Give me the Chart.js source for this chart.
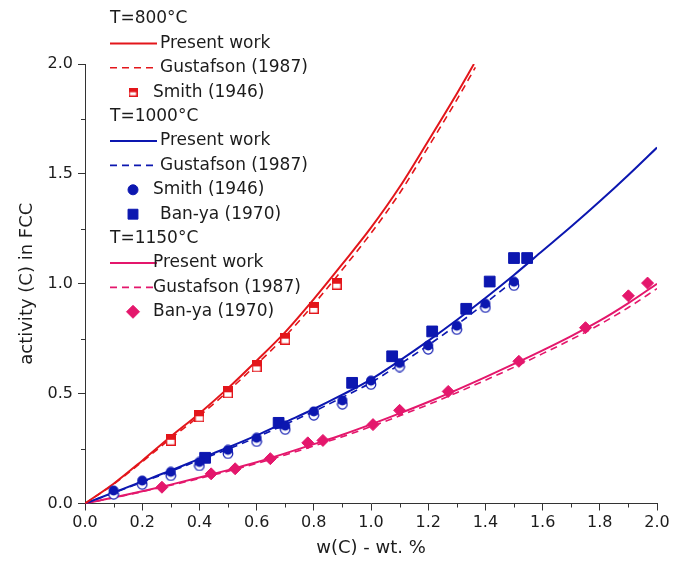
<!DOCTYPE html>
<html>
<head>
<meta charset="utf-8">
<script src="https://cdn.jsdelivr.net/npm/chart.js@4.4.1/dist/chart.umd.min.js"></script>
<style>
  html, body { margin: 0; padding: 0; background: #fff; }
</style>
</head>
<body>
<canvas id="chart" width="685" height="573"></canvas>
<script>
// Carbon activity in FCC iron vs. carbon content at three temperatures

const RED = '#e3161b';
const BLUE = '#0c17b0';
const PINK = '#e4176c';
const INK = '#1c1c1c';

// T = 800 °C
const present800X = [0, 0.1, 0.2, 0.3, 0.4, 0.5, 0.6, 0.7, 0.8, 0.9, 1.0, 1.1, 1.2, 1.3, 1.36];
const present800 = [0, 0.09, 0.195, 0.305, 0.41, 0.525, 0.65, 0.78, 0.93, 1.09, 1.255, 1.44, 1.65, 1.865, 2.0];
const gustafson800X = [0, 0.1, 0.2, 0.3, 0.4, 0.5, 0.6, 0.7, 0.8, 0.9, 1.0, 1.1, 1.2, 1.3, 1.365];
const gustafson800 = [0, 0.088, 0.19, 0.296, 0.399, 0.511, 0.633, 0.761, 0.907, 1.065, 1.23, 1.412, 1.622, 1.837, 1.985];
const smith800X = [0.3, 0.4, 0.5, 0.6, 0.7, 0.8, 0.88];
const smith800 = [0.29, 0.397, 0.506, 0.624, 0.75, 0.89, 1.0];

// T = 1000 °C
const present1000X = [0, 0.1, 0.2, 0.3, 0.4, 0.5, 0.6, 0.7, 0.8, 0.9, 1.0, 1.1, 1.2, 1.3, 1.4, 1.5, 1.6, 1.7, 1.8, 1.9, 2.0];
const present1000 = [0, 0.05, 0.1, 0.15, 0.203, 0.255, 0.31, 0.37, 0.43, 0.495, 0.565, 0.65, 0.74, 0.835, 0.935, 1.04, 1.15, 1.26, 1.375, 1.495, 1.62];
const gustafson1000X = [0, 0.1, 0.2, 0.3, 0.4, 0.5, 0.6, 0.7, 0.8, 0.9, 1.0, 1.1, 1.2, 1.3, 1.4, 1.5];
const gustafson1000 = [0, 0.048, 0.097, 0.146, 0.197, 0.247, 0.301, 0.36, 0.419, 0.483, 0.55, 0.633, 0.72, 0.813, 0.912, 1.015];
const smith1000X = [0.1, 0.2, 0.3, 0.4, 0.5, 0.6, 0.7, 0.8, 0.9, 1.0, 1.1, 1.2, 1.3, 1.4, 1.5];
const smith1000 = [0.05, 0.095, 0.135, 0.18, 0.235, 0.29, 0.345, 0.41, 0.46, 0.55, 0.63, 0.71, 0.8, 0.9, 1.0];
const banya1000X = [0.42, 0.677, 0.934, 1.074, 1.214, 1.333, 1.415, 1.5, 1.546];
const banya1000 = [0.208, 0.367, 0.549, 0.67, 0.783, 0.886, 1.01, 1.117, 1.117];

// T = 1150 °C
const present1150X = [0, 0.1, 0.2, 0.3, 0.4, 0.5, 0.6, 0.7, 0.8, 0.9, 1.0, 1.1, 1.2, 1.3, 1.4, 1.5, 1.6, 1.7, 1.8, 1.9, 2.0];
const present1150 = [0, 0.027, 0.056, 0.086, 0.118, 0.152, 0.188, 0.228, 0.27, 0.313, 0.36, 0.41, 0.462, 0.517, 0.575, 0.635, 0.697, 0.762, 0.832, 0.912, 1.0];
const gustafson1150X = [0, 0.1, 0.2, 0.3, 0.4, 0.5, 0.6, 0.7, 0.8, 0.9, 1.0, 1.1, 1.2, 1.3, 1.4, 1.5, 1.6, 1.7, 1.8, 1.9, 2.0];
const gustafson1150 = [0, 0.026, 0.054, 0.083, 0.114, 0.147, 0.182, 0.221, 0.262, 0.304, 0.35, 0.399, 0.45, 0.504, 0.561, 0.62, 0.682, 0.746, 0.815, 0.892, 0.978];
const banya1150X = [0.269, 0.441, 0.525, 0.648, 0.779, 0.832, 1.007, 1.1, 1.27, 1.517, 1.75, 1.9, 1.967];
const banya1150 = [0.074, 0.135, 0.158, 0.204, 0.276, 0.287, 0.359, 0.424, 0.51, 0.647, 0.8, 0.945, 1.003];

const xTickStep = 0.2;
const yTickStep = 0.5;
const xMinorTicks = [0.1, 0.3, 0.5, 0.7, 0.9, 1.1, 1.3, 1.5, 1.7, 1.9];
const yMinorTicks = [0.25, 0.75, 1.25, 1.75];

const zip = (xs, ys) => xs.map((x, i) => ({ x, y: ys[i] }));

// half-filled markers (upper half solid)
function halfSquare(color, w, h) {
    const c = document.createElement('canvas');
    c.width = w; c.height = h;
    const g = c.getContext('2d');
    g.fillStyle = '#fff';
    g.fillRect(0, 0, w, h);
    g.fillStyle = color;
    g.fillRect(0, 0, w, h / 2);
    g.strokeStyle = color;
    g.lineWidth = 1.4;
    g.strokeRect(0.7, 0.7, w - 1.4, h - 1.4);
    return c;
}

function halfCircle(color) {
    const c = document.createElement('canvas');
    c.width = 12; c.height = 15;
    const g = c.getContext('2d');
    g.beginPath();
    g.arc(6, 9.3, 4.8, 0, Math.PI * 2);
    g.fillStyle = '#fff';
    g.fill();
    g.strokeStyle = color;
    g.lineWidth = 1.2;
    g.stroke();
    g.beginPath();
    g.arc(6, 5.5, 5, 0, Math.PI * 2);
    g.fillStyle = color;
    g.fill();
    return c;
}

function curve(points, color, dashed) {
    return {
        data: points,
        showLine: true,
        borderColor: color,
        borderWidth: dashed ? 1.6 : 2,
        borderDash: dashed ? [7, 5] : [],
        pointRadius: 0,
        cubicInterpolationMode: 'monotone',
        fill: false,
        order: 2,
    };
}

function markers(points, color, style, radius) {
    return {
        data: points,
        showLine: false,
        pointStyle: style,
        pointRadius: radius,
        pointBackgroundColor: color,
        pointBorderColor: color,
        pointBorderWidth: 1,
        order: 1,
    };
}

const sqMarker800 = halfSquare(RED, 10, 12);
const circMarker1000 = halfCircle(BLUE);

const ds = {
    p800: curve(zip(present800X, present800), RED, false),
    g800: curve(zip(gustafson800X, gustafson800), RED, true),
    s800: markers(zip(smith800X, smith800), RED, sqMarker800, 5),
    p1000: curve(zip(present1000X, present1000), BLUE, false),
    g1000: curve(zip(gustafson1000X, gustafson1000), BLUE, true),
    s1000: markers(zip(smith1000X, smith1000), BLUE, circMarker1000, 5),
    b1000: markers(zip(banya1000X, banya1000), BLUE, 'rect', 7.6),
    p1150: curve(zip(present1150X, present1150), PINK, false),
    g1150: curve(zip(gustafson1150X, gustafson1150), PINK, true),
    b1150: markers(zip(banya1150X, banya1150), PINK, 'rectRot', 6),
};

const legendRows = [
    { text: 'T=800°C' },
    { text: 'Present work', line: ds.p800 },
    { text: 'Gustafson (1987)', line: ds.g800 },
    { text: 'Smith (1946)', marker: ds.s800, style: halfSquare(RED, 9, 9), textX: 153 },
    { text: 'T=1000°C' },
    { text: 'Present work', line: ds.p1000 },
    { text: 'Gustafson (1987)', line: ds.g1000 },
    { text: 'Smith (1946)', marker: ds.s1000, style: 'circle', radius: 5, textX: 153 },
    { text: 'Ban-ya (1970)', marker: ds.b1000, radius: 7 },
    { text: 'T=1150°C' },
    { text: 'Present work', line: ds.p1150, textX: 153 },
    { text: 'Gustafson (1987)', line: ds.g1150, textX: 153 },
    { text: 'Ban-ya (1970)', marker: ds.b1150, radius: 6.5, textX: 153 },
];

// grouped legend in the upper-left corner
const groupLegend = {
    id: 'groupLegend',
    afterDraw(chart) {
        const ctx = chart.ctx;
        const left = 110, top = 19, rowH = 24.4, lineW = 47;
        ctx.save();
        ctx.font = '17px "DejaVu Sans"';
        ctx.fillStyle = INK;
        ctx.textBaseline = 'middle';
        legendRows.forEach((row, i) => {
            const y = top + i * rowH;
            let tx = left;
            if (row.line) {
                ctx.save();
                ctx.strokeStyle = row.line.borderColor;
                ctx.lineWidth = row.line.borderWidth;
                ctx.setLineDash(row.line.borderDash);
                ctx.beginPath();
                ctx.moveTo(left, y);
                ctx.lineTo(left + lineW, y);
                ctx.stroke();
                ctx.restore();
                tx = row.textX || left + 50;
            } else if (row.marker) {
                ctx.save();
                ctx.fillStyle = row.marker.pointBackgroundColor;
                ctx.strokeStyle = row.marker.pointBorderColor;
                ctx.lineWidth = 1;
                Chart.helpers.drawPoint(ctx, {
                    pointStyle: row.style || row.marker.pointStyle,
                    radius: row.radius || row.marker.pointRadius,
                    borderWidth: 1,
                    rotation: 0,
                }, left + 23, y);
                ctx.restore();
                tx = row.textX || left + 50;
            }
            ctx.fillText(row.text, tx, y);
        });
        ctx.restore();
    }
};

// short minor ticks between the labelled ones
const minorTicks = {
    id: 'minorTicks',
    afterDraw(chart) {
        const { ctx, scales: { x, y } } = chart;
        ctx.save();
        ctx.strokeStyle = '#333';
        ctx.lineWidth = 1;
        ctx.beginPath();
        xMinorTicks.forEach(v => {
            const px = Math.round(x.getPixelForValue(v)) + 0.5;
            ctx.moveTo(px, x.top);
            ctx.lineTo(px, x.top + 4);
        });
        yMinorTicks.forEach(v => {
            const py = Math.round(y.getPixelForValue(v)) + 0.5;
            ctx.moveTo(y.right, py);
            ctx.lineTo(y.right - 4, py);
        });
        ctx.stroke();
        ctx.restore();
    }
};

Chart.defaults.font.family = '"DejaVu Sans", sans-serif';
Chart.defaults.color = INK;

new Chart(document.getElementById('chart'), {
    type: 'scatter',
    data: {
        datasets: [ds.p800, ds.g800, ds.s800, ds.p1000, ds.g1000, ds.s1000, ds.b1000, ds.p1150, ds.g1150, ds.b1150],
    },
    options: {
        responsive: false,
        animation: false,
        events: [],
        layout: { padding: { top: 64, right: 28, left: 0, bottom: 0 } },
        plugins: {
            legend: { display: false },
            tooltip: { enabled: false },
        },
        scales: {
            x: {
                type: 'linear',
                min: 0,
                max: 2,
                ticks: {
                    stepSize: xTickStep,
                    callback: v => v.toFixed(1),
                    font: { size: 16 },
                    color: INK,
                    padding: 3,
                    maxRotation: 0,
                    autoSkip: false,
                },
                grid: { drawOnChartArea: false, tickLength: 7, tickColor: '#333' },
                border: { color: '#333', width: 1 },
                title: {
                    display: true,
                    text: 'w(C) - wt. %',
                    font: { size: 18 },
                    color: INK,
                    padding: { top: 0, bottom: 14 },
                },
                afterFit: s => { s.height = 69.5; },
            },
            y: {
                type: 'linear',
                min: 0,
                max: 2,
                ticks: {
                    stepSize: yTickStep,
                    callback: v => v.toFixed(1),
                    font: { size: 16 },
                    color: INK,
                    padding: 5,
                },
                grid: { drawOnChartArea: false, tickLength: 7, tickColor: '#333' },
                border: { color: '#333', width: 1 },
                title: {
                    display: true,
                    text: 'activity (C) in FCC',
                    font: { size: 18 },
                    color: INK,
                    padding: { top: 17, bottom: 0 },
                },
                afterFit: s => { s.width = 85; },
            },
        },
    },
    plugins: [minorTicks, groupLegend],
});
</script>
</body>
</html>
